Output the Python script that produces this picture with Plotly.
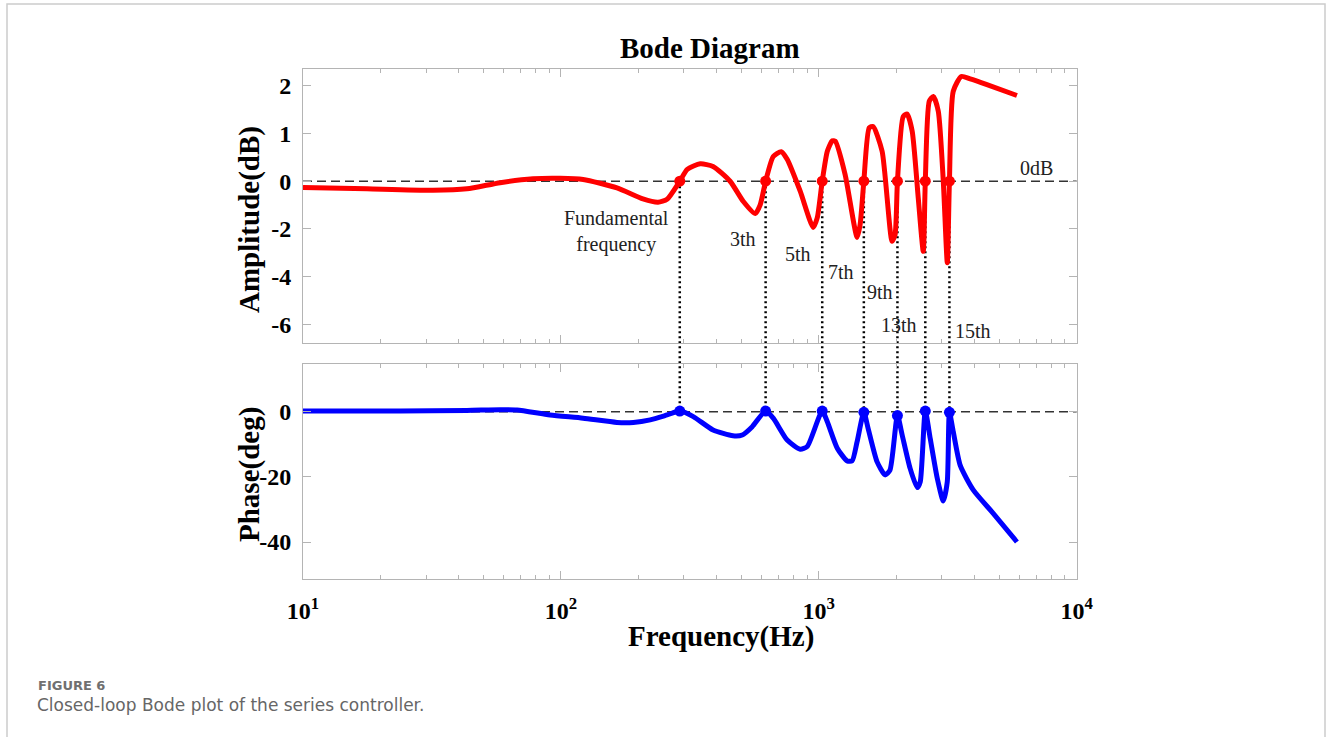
import plotly.graph_objects as go

W, H = 1332, 737

# ---------------- data ----------------
amp_freq = [10, 17.7, 31.9, 43.2, 58.1, 78, 99.3, 122, 165, 208, 238, 258, 289, 309, 347, 389,
            453, 509, 567, 593, 622, 666, 715, 754, 847, 951, 986, 1031, 1079, 1128, 1158,
            1265, 1408, 1446, 1495, 1568, 1624, 1760, 1923, 1976, 2018, 2125, 2201, 2302,
            2430, 2541, 2588, 2681, 2780, 2906, 3039, 3149, 3210, 3321, 3570, 3864, 4487, 5865]
amp_val = [-0.13, -0.16, -0.19, -0.16, -0.03, 0.05, 0.06, 0.035, -0.14, -0.37, -0.44, -0.38, 0.0, 0.25, 0.365, 0.31,
           0.0, -0.42, -0.68, -0.49, 0.0, 0.52, 0.62, 0.46, -0.21, -0.97, -0.77, 0.0, 0.63, 0.85, 0.84,
           0.14, -1.18, -0.91, 0.0, 1.12, 1.15, 0.63, -1.26, -1.12, 0.0, 1.36, 1.41, 1.05,
           -0.35, -1.47, 0.0, 1.68, 1.78, 1.47, 0.0, -1.71, 0.0, 1.89, 2.2, 2.15, 2.03, 1.80]

phase_freq = [10, 23.8, 43.2, 58.1, 67.6, 90.8, 122, 165, 191, 222, 258, 289, 326, 389, 465, 505,
              552, 622, 666, 754, 847, 902, 1031, 1079, 1179, 1288, 1347, 1408, 1495, 1553,
              1683, 1806, 1888, 2018, 2105, 2260, 2408, 2474, 2588, 2704, 2879, 3039, 3149,
              3210, 3321, 3535, 3969, 4745, 5865]
phase_val = [0.2, 0.2, 0.4, 0.6, 0.5, -1.0, -2.0, -3.3, -3.3, -2.5, -1.0, 0.2, -1.5, -5.6, -7.4, -7.15,
             -4.6, 0.2, -2.0, -8.7, -11.5, -10.7, 0.2, -3.1, -11.2, -15.1, -15.1, -9.2, -0.2, -5.1,
             -15.4, -19.4, -17.9, -1.2, -7.15, -17.4, -23.3, -21.5, 0.2, -8.2, -20.4, -27.4, -21.5,
             -0.2, -6.1, -16.5, -24.0, -31.2, -40.0]

harm_freq = [289, 622, 1031, 1495, 2018, 2588, 3210]
harm_amp = [0, 0, 0, 0, 0, 0, 0]
harm_phase = [0.2, 0.2, 0.2, -0.2, -1.2, 0.2, -0.2]

amp_tickvals = [2, 1, 0, -1, -2, -3]
amp_ticktext = ["2", "1", "0", "-2", "-4", "-6"]
phase_tickvals = [0, -20, -40]
phase_ticktext = ["0", "-20", "-40"]
x_tickvals = [10, 100, 1000, 10000]
x_ticktext = ["10<sup>1</sup>", "10<sup>2</sup>", "10<sup>3</sup>", "10<sup>4</sup>"]
x_minor = [m * 10 ** e for e in (1, 2, 3) for m in range(2, 10)]

# (text, x_px, y_px) label placements
harm_labels = [("Fundamental<br>frequency", 616, 231), ("3th", 743, 239), ("5th", 798, 254),
               ("7th", 841, 272), ("9th", 880, 292), ("13th", 899, 325), ("15th", 973, 331)]

# ---------------- layout geometry ----------------
X_DOM = [303 / W, 1076.7 / W]
Y_TOP = [1 - 342.7 / H, 1 - 69.3 / H]
Y_BOT = [1 - 579.3 / H, 1 - 364.3 / H]
AMP_RANGE = [-3.39, 2.35]
PH_RANGE = [-51.45, 14.55]

SERIF = "Liberation Serif, Times New Roman, serif"
SANS = "DejaVu Sans, Noto Sans, sans-serif"
AXC = "#b4b4b4"


def px(x):
    return x / W


def py(y):
    return 1 - y / H


def to_paper(v, dom, rng):
    return dom[0] + (v - rng[0]) / (rng[1] - rng[0]) * (dom[1] - dom[0])


fig = go.Figure()

fig.add_trace(go.Scatter(x=amp_freq, y=amp_val, mode="lines", xaxis="x", yaxis="y",
                         line=dict(color="#ff0000", width=5, shape="spline", smoothing=0.6),
                         showlegend=False, hoverinfo="skip"))
fig.add_trace(go.Scatter(x=harm_freq, y=harm_amp, mode="markers", xaxis="x", yaxis="y",
                         marker=dict(color="#ff0000", size=11), showlegend=False))
fig.add_trace(go.Scatter(x=phase_freq, y=phase_val, mode="lines", xaxis="x2", yaxis="y2",
                         line=dict(color="#0000ff", width=5, shape="spline", smoothing=0.6),
                         showlegend=False, hoverinfo="skip"))
fig.add_trace(go.Scatter(x=harm_freq, y=harm_phase, mode="markers", xaxis="x2", yaxis="y2",
                         marker=dict(color="#0000ff", size=11), showlegend=False))

common_x = dict(type="log", range=[1, 4], domain=X_DOM, showgrid=False, zeroline=False,
                showline=True, linecolor=AXC, linewidth=1, mirror="ticks", automargin=False,
                ticks="inside", ticklen=8, tickcolor=AXC, tickmode="array", tickvals=x_tickvals,
                ticktext=x_ticktext,
                minor=dict(ticks="inside", ticklen=4, tickcolor=AXC, tickmode="array",
                           tickvals=x_minor, showgrid=False))
common_y = dict(showgrid=False, zeroline=False, showline=True, linecolor=AXC, linewidth=1,
                mirror="ticks", ticks="inside", ticklen=8, tickcolor=AXC, tickmode="array",
                ticklabelstandoff=6, automargin=False,
                tickfont=dict(family=SERIF, size=24, color="#000", weight="bold"))

fig.update_layout(
    width=W, height=H, autosize=False,
    margin=dict(l=0, r=0, t=0, b=0, pad=0, autoexpand=False),
    paper_bgcolor="white", plot_bgcolor="rgba(0,0,0,0)",
    showlegend=False,
    xaxis=dict(common_x, anchor="y", showticklabels=False),
    yaxis=dict(common_y, domain=Y_TOP, range=AMP_RANGE, tickvals=amp_tickvals,
               ticktext=amp_ticktext, anchor="x"),
    xaxis2=dict(common_x, anchor="y2", showticklabels=True, ticklabelstandoff=10,
                tickfont=dict(family=SERIF, size=24, color="#000", weight="bold")),
    yaxis2=dict(common_y, domain=Y_BOT, range=PH_RANGE, tickvals=phase_tickvals,
                ticktext=phase_ticktext, anchor="x2"),
)

shapes = []
# zero reference lines
shapes.append(dict(type="line", xref="x domain", yref="y", x0=0, x1=1, y0=0, y1=0,
                   line=dict(color="#333333", width=1.6, dash="9px,5px"), layer="below"))
shapes.append(dict(type="line", xref="x2 domain", yref="y2", x0=0, x1=1, y0=0, y1=0,
                   line=dict(color="#333333", width=1.6, dash="9px,5px"), layer="below"))
# dotted connectors
for f, a, p in zip(harm_freq, harm_amp, harm_phase):
    shapes.append(dict(type="line", xref="x", yref="paper", x0=f, x1=f,
                       y0=to_paper(a, Y_TOP, AMP_RANGE), y1=to_paper(p, Y_BOT, PH_RANGE),
                       line=dict(color="#000000", width=2.5, dash="2px,3px"), layer="below"))
# outer frame (bottom edge lies below the visible page)
shapes.append(dict(type="rect", xref="paper", yref="paper", x0=px(7), x1=px(1325),
                   y0=py(748), y1=py(4), line=dict(color="#cccccc", width=1.5),
                   fillcolor="rgba(0,0,0,0)", layer="below"))
fig.update_layout(shapes=shapes)

ann = []
ann.append(dict(text="Bode Diagram", x=px(710), y=py(48), xref="paper", yref="paper",
                showarrow=False, xanchor="center", yanchor="middle",
                font=dict(family=SERIF, size=29, color="#000", weight="bold")))
ann.append(dict(text="Amplitude(dB)", x=px(250), y=py(219), xref="paper", yref="paper",
                showarrow=False, textangle=-90, xanchor="center", yanchor="middle",
                font=dict(family=SERIF, size=29, color="#000", weight="bold")))
ann.append(dict(text="Phase(deg)", x=px(250), y=py(474), xref="paper", yref="paper",
                showarrow=False, textangle=-90, xanchor="center", yanchor="middle",
                font=dict(family=SERIF, size=29, color="#000", weight="bold")))
ann.append(dict(text="Frequency(Hz)", x=px(721), y=py(636), xref="paper", yref="paper",
                showarrow=False, xanchor="center", yanchor="middle",
                font=dict(family=SERIF, size=29, color="#000", weight="bold")))
ann.append(dict(text="0dB", x=px(1036), y=py(168), xref="paper", yref="paper",
                showarrow=False, xanchor="center", yanchor="middle",
                font=dict(family=SERIF, size=20, color="#222")))
for t, xx, yy in harm_labels:
    ann.append(dict(text=t, x=px(xx), y=py(yy), xref="paper", yref="paper",
                    showarrow=False, xanchor="center", yanchor="middle",
                    font=dict(family=SERIF, size=20, color="#222")))
ann.append(dict(text="FIGURE 6", x=px(36), y=py(685), xref="paper", yref="paper",
                showarrow=False, xanchor="left", yanchor="middle",
                font=dict(family=SANS, size=13, color="#707070", weight="bold")))
ann.append(dict(text="Closed-loop Bode plot of the series controller.", x=px(35), y=py(705),
                xref="paper", yref="paper", showarrow=False, xanchor="left", yanchor="middle",
                font=dict(family=SANS, size=17, color="#666666")))
fig.update_layout(annotations=ann)

fig.write_html("out.html")
